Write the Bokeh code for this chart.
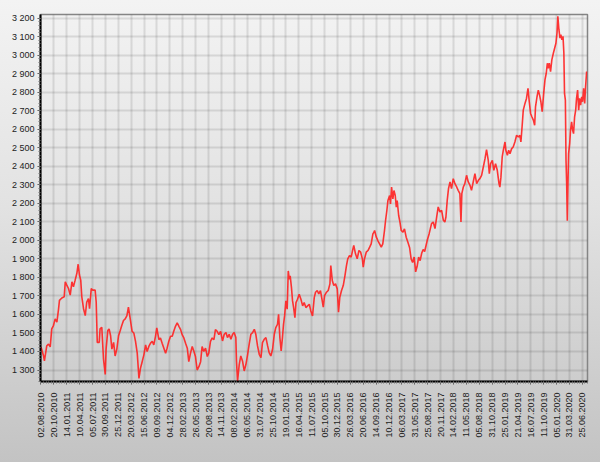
import math
from bokeh.plotting import figure
from bokeh.models import FixedTicker, Range1d
from bokeh.embed import file_html
from bokeh.resources import INLINE

# x-axis labels: one every 60 trading days
x_labels = ["02.08.2010", "20.10.2010", "14.01.2011", "10.04.2011", "05.07.2011", "30.09.2011",
            "25.12.2011", "20.03.2012", "15.06.2012", "09.09.2012", "04.12.2012", "28.02.2013",
            "26.05.2013", "20.08.2013", "14.11.2013", "08.02.2014", "06.05.2014", "31.07.2014",
            "25.10.2014", "19.01.2015", "16.04.2015", "11.07.2015", "05.10.2015", "30.12.2015",
            "26.03.2016", "20.06.2016", "14.09.2016", "10.12.2016", "06.03.2017", "31.05.2017",
            "25.08.2017", "20.11.2017", "14.02.2018", "11.05.2018", "05.08.2018", "31.10.2018",
            "25.01.2019", "21.04.2019", "16.07.2019", "11.10.2019", "05.01.2020", "31.03.2020",
            "25.06.2020"]
DAYS_PER_LABEL = 60

y_labels = ["1 300", "1 400", "1 500", "1 600", "1 700", "1 800", "1 900", "2 000", "2 100",
            "2 200", "2 300", "2 400", "2 500", "2 600", "2 700", "2 800", "2 900", "3 000",
            "3 100", "3 200"]

# trading-day number and index value
day = [0, 12, 16, 27, 35, 43, 50, 58, 66, 74, 81, 86, 97, 108, 113, 120, 128, 136, 144, 151,
       159, 167, 173, 179, 185, 190, 198, 206, 213, 221, 226, 234, 241, 252, 257, 262, 271, 275,
       283, 291, 299, 303, 311, 317, 324, 330, 338, 345, 353, 361, 369, 376, 384, 392, 400, 407,
       417, 424, 432, 440, 448, 456, 463, 471, 479, 487, 494, 502, 510, 518, 525, 533, 539, 549,
       556, 564, 572, 580, 587, 595, 603, 611, 618, 626, 634, 642, 650, 657, 665, 673, 681, 688,
       696, 704, 712, 719, 727, 735, 743, 750, 758, 766, 774, 781, 789, 797, 805, 812, 820, 828,
       836,
       845, 853, 861, 868, 876, 884, 892, 899, 907, 910, 915, 923, 930, 938, 946, 954, 962, 969,
       977, 985, 993, 1000, 1008, 1016, 1024, 1031, 1039, 1047, 1055, 1062, 1070, 1078, 1086,
       1093, 1101, 1106, 1112, 1118, 1124, 1129, 1134, 1140, 1146, 1151, 1156, 1160, 1166, 1171,
       1176, 1182, 1187, 1194, 1202, 1210, 1218, 1225, 1233, 1241, 1249, 1256, 1264, 1272,
       1278, 1286, 1293, 1301, 1309, 1314, 1320, 1329, 1337, 1345, 1349, 1356, 1363, 1371, 1379,
       1385, 1391, 1399, 1407, 1415, 1422, 1428, 1436, 1444, 1452, 1456, 1464, 1472, 1480, 1488,
       1496, 1500, 1506, 1514, 1522, 1530, 1537, 1545, 1550, 1553, 1561, 1568, 1576, 1584, 1591,
       1599, 1604, 1610, 1615, 1623, 1627, 1632, 1638, 1643, 1649, 1654, 1658, 1665, 1671, 1677,
       1685, 1692, 1700, 1708, 1716, 1723, 1730, 1737, 1744, 1751, 1758, 1765, 1772, 1779, 1786,
       1793,
       1798, 1807, 1818, 1826, 1834, 1842, 1849, 1857, 1865, 1873, 1880, 1885, 1891, 1897, 1904,
       1911, 1919, 1927, 1935, 1942, 1950, 1955, 1959, 1966, 1973, 1981, 1989, 1997, 2004, 2012,
       2020, 2028, 2036, 2043, 2051, 2059, 2067, 2074, 2082, 2087, 2093, 2101, 2108, 2116, 2124,
       2132,
       2136, 2141, 2147, 2152, 2160, 2164, 2171, 2177, 2183, 2191, 2198, 2206, 2214, 2222, 2229,
       2234, 2240, 2245, 2253, 2260, 2267, 2273, 2279, 2285, 2292, 2298, 2302, 2309, 2315, 2321,
       2327, 2333, 2340, 2346, 2352, 2357, 2361, 2366, 2372, 2378, 2385, 2391, 2397, 2402, 2406,
       2411, 2416, 2420, 2425, 2430, 2434, 2437, 2441, 2444, 2447, 2450, 2453, 2456, 2461, 2465,
       2470, 2475, 2479, 2484, 2489, 2493, 2498, 2503, 2507, 2512, 2517, 2521, 2526, 2531, 2535,
       2540]

index_value = [1425, 1376, 1349, 1431, 1440, 1425, 1522, 1540, 1576, 1558, 1622, 1676, 1689, 1695,
       1776, 1758, 1740, 1704, 1776, 1749, 1785, 1822, 1871, 1813, 1785, 1695, 1631, 1594, 1667,
       1685, 1631, 1740, 1731, 1731, 1667, 1449, 1449, 1522, 1531, 1358, 1276, 1413, 1513, 1522,
       1485, 1413, 1449, 1376, 1413, 1485, 1513, 1540, 1567, 1576, 1594, 1640,
       1564, 1509, 1500, 1455, 1391, 1255, 1309, 1345, 1382, 1436, 1400, 1427, 1445, 1455, 1436,
       1482, 1527, 1464, 1473, 1445, 1418, 1391, 1418, 1455, 1482, 1482, 1509, 1536, 1555, 1536,
       1518, 1491, 1473, 1445, 1418, 1345, 1391, 1427, 1400, 1373, 1300, 1318, 1345, 1427, 1400,
       1418, 1373, 1391, 1455, 1473, 1464, 1518, 1509, 1491, 1509,
       1457, 1493, 1502, 1475, 1493, 1466, 1493, 1502, 1475, 1349, 1241, 1331, 1376, 1349, 1295,
       1331, 1385, 1439, 1493, 1502, 1520, 1493, 1430, 1385, 1367, 1448, 1466, 1475, 1430, 1394,
       1376, 1412, 1493, 1529, 1547, 1601, 1475, 1403, 1475, 1547, 1592, 1673, 1628, 1835, 1790,
       1808, 1745, 1673, 1637, 1583, 1664, 1682, 1709, 1682, 1646, 1664, 1637, 1646, 1655, 1619,
       1592, 1691,
       1720, 1729, 1711, 1729, 1675, 1639, 1702, 1720, 1729, 1765, 1864, 1783, 1756, 1765, 1738,
       1612, 1693, 1729, 1756, 1810, 1864, 1900, 1918, 1909, 1954, 1972, 1927, 1900, 1945, 1936,
       1900, 1855, 1900, 1936, 1945, 1963, 1981, 2035, 2044, 2053, 2017, 1999, 1981, 1963, 1981,
       2053, 2107, 2161, 2215, 2242, 2197, 2287, 2224, 2269, 2242, 2179, 2215, 2134, 2098, 2053,
       2044, 2062, 2017, 1990, 1960, 1900, 1880, 1910, 1830, 1860, 1910, 1890, 1930, 1950, 1940,
       1975,
       2000, 2036, 2090, 2099, 2063, 2126, 2180, 2153, 2162, 2108, 2099, 2126, 2216, 2279, 2315,
       2279, 2333, 2306, 2288, 2270, 2252, 2099, 2252, 2288, 2306, 2351, 2315, 2297, 2270, 2315,
       2360, 2306, 2324, 2333, 2351, 2396, 2441, 2490, 2432, 2360, 2414, 2432, 2378, 2414, 2378,
       2306,
       2287, 2341, 2450, 2486, 2531, 2486, 2459, 2486, 2468, 2495, 2504, 2531, 2567, 2558, 2567,
       2531, 2621, 2703, 2739, 2766, 2820, 2748, 2685, 2667, 2649, 2621, 2721, 2775, 2811, 2784,
       2748, 2694, 2793, 2866, 2902, 2956, 2929, 2956, 2911, 2974, 3010, 3037, 3064, 3119, 3209,
       3137, 3092, 3110, 3082, 3101, 3010, 2793, 2757, 2432, 2305, 2106, 2305, 2468, 2522, 2594,
       2640, 2594, 2576, 2667, 2703, 2766, 2811, 2703, 2766, 2730, 2775, 2748, 2820, 2739, 2829,
       2911]

x_ticks = [DAYS_PER_LABEL * k for k in range(len(x_labels))]
x_minor = [12 * k for k in range(-1, 5 * len(x_labels) + 2)]
y_ticks = [int(s.replace(" ", "")) for s in y_labels]
y_minor = list(range(1220, 3240, 20))

p = figure(width=600, height=462, output_backend="svg", toolbar_location=None,
           x_range=Range1d(-2.3, 2544), y_range=Range1d(1238, 3219),
           min_border_left=40, min_border_right=13, min_border_top=14, min_border_bottom=81)
p.background_fill_color = None
p.border_fill_color = None
p.styles = {"background": "linear-gradient(to bottom, #f3f3f3 0%, #e2e2e2 45%, #c3c3c3 100%)"}
p.outline_line_color = "#858585"
p.outline_line_width = 1.5

p.line(day, index_value, color="#ff2020", line_width=1.6, line_alpha=0.9)

xa = p.xaxis[0]
xa.ticker = FixedTicker(ticks=x_ticks, minor_ticks=x_minor)
xa.major_label_overrides = {t: s for t, s in zip(x_ticks, x_labels)}
xa.major_label_orientation = math.pi / 2
ya = p.yaxis[0]
ya.ticker = FixedTicker(ticks=y_ticks, minor_ticks=y_minor)
ya.major_label_overrides = {t: s for t, s in zip(y_ticks, y_labels)}

for ax in (xa, ya):
    ax.axis_line_color = "#000000"
    ax.axis_line_width = 2
    ax.major_tick_line_color = "#555555"
    ax.minor_tick_line_color = "#777777"
    ax.major_tick_in = 0
    ax.minor_tick_in = 0
    ax.major_tick_out = 3
    ax.minor_tick_out = 2
    ax.major_label_text_font = "Liberation Sans"
    ax.major_label_text_font_size = "9px"
    ax.major_label_text_color = "#222222"
xa.major_label_standoff = 8
ya.major_label_standoff = 3

for g in (p.xgrid[0], p.ygrid[0]):
    g.grid_line_color = "#000000"
    g.grid_line_alpha = 0.1
    g.grid_line_width = 2

open("out.html", "w").write(file_html(p, INLINE))
